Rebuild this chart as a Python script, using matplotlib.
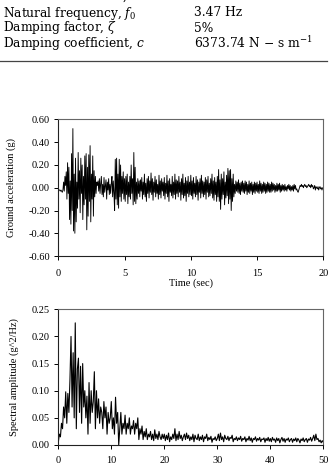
import numpy as np
import matplotlib.pyplot as plt

plt.rcParams['font.family'] = ['Liberation Serif', 'DejaVu Serif']
plt.rcParams['mathtext.fontset'] = 'stix'

# tabla de parametros
nombres = ['Structural stiffness, $k$', 'Natural frequency, $f_0$',
           'Damping factor, $\\zeta$', 'Damping coefficient, $c$']
valores = ['3027.66 kN m$^{-1}$', '3.47 Hz', '5%',
           '6373.74 N $-$ s m$^{-1}$']

# acelerograma, dt = 0.05 s
dt_acc = 0.05
acc = [
    -0.01,-0.02,-0.02,-0.03,-0.02,-0.03,-0.04,-0.02, 0.05,-0.03, 0.10, 0.02, 0.14,-0.10, 0.22,-0.05, 0.18,-0.28, 0.06,-0.32,
     0.30,-0.20, 0.52,-0.38, 0.12,-0.40, 0.26,-0.30, 0.05,-0.18, 0.31,-0.10, 0.15,-0.22, 0.26,-0.05, 0.20,-0.28, 0.10,-0.15,
     0.28,-0.10, 0.30,-0.37, 0.18,-0.25, 0.29,-0.12, 0.37,-0.30, 0.12,-0.10, 0.28,-0.25, 0.15,-0.08, 0.10,-0.05, 0.05, 0.02,
     0.06,-0.03, 0.08,-0.05, 0.04, 0.10,-0.06, 0.03,-0.08, 0.09,-0.04, 0.02, 0.07,-0.10, 0.05,-0.02, 0.08,-0.06, 0.03,-0.05,
     0.04, 0.10,-0.08, 0.06,-0.05,-0.20, 0.25,-0.10, 0.26,-0.15, 0.12,-0.18, 0.25,-0.08, 0.20,-0.12, 0.10,-0.05, 0.14,-0.10,
     0.08,-0.12, 0.10,-0.06, 0.12,-0.14, 0.05,-0.08, 0.10,-0.10, 0.20,-0.05, 0.08,-0.15, 0.31,-0.12, 0.18,-0.14, 0.05,-0.10,
     0.08,-0.05, 0.06,-0.08, 0.07,-0.03, 0.09,-0.10, 0.05,-0.06, 0.12,-0.08, 0.04,-0.12, 0.08,-0.05, 0.10,-0.09, 0.06,-0.04,
     0.13,-0.06, 0.08,-0.11, 0.05,-0.04, 0.10,-0.08, 0.07,-0.05, 0.03,-0.10, 0.11,-0.06, 0.06,-0.09, 0.08,-0.03, 0.05,-0.07,
     0.09,-0.10, 0.04,-0.05, 0.11,-0.08, 0.06,-0.12, 0.08,-0.04, 0.03,-0.07, 0.10,-0.09, 0.05,-0.06, 0.12,-0.10, 0.07,-0.05,
     0.06,-0.08, 0.10,-0.04, 0.05,-0.11, 0.08,-0.06, 0.12,-0.09, 0.04,-0.07, 0.09,-0.12, 0.06,-0.05, 0.10,-0.08, 0.05,-0.06,
     0.11,-0.07, 0.06,-0.10, 0.09,-0.05, 0.04,-0.08, 0.10,-0.06, 0.07,-0.11, 0.05,-0.04, 0.08,-0.09, 0.11,-0.05, 0.06,-0.08,
     0.05,-0.06, 0.09,-0.10, 0.07,-0.04, 0.10,-0.08, 0.04,-0.07, 0.08,-0.05, 0.12,-0.09, 0.06,-0.11, 0.09,-0.06, 0.05,-0.12,
     0.10,-0.08, 0.16,-0.12, 0.07,-0.19, 0.12,-0.10, 0.08,-0.06, 0.14,-0.15, 0.05,-0.09, 0.11,-0.07, 0.17,-0.14, 0.15,-0.10,
     0.16,-0.20, 0.08,-0.12, 0.12,-0.08, 0.03,-0.05, 0.06,-0.03, 0.05,-0.04, 0.07,-0.05, 0.04,-0.06, 0.05,-0.03, 0.06,-0.04,
     0.04,-0.05, 0.06,-0.03, 0.05,-0.06, 0.03,-0.04, 0.06,-0.05, 0.04,-0.03, 0.05,-0.06, 0.03,-0.04, 0.05,-0.05, 0.04,-0.03,
     0.05,-0.04, 0.03,-0.05, 0.06,-0.03, 0.04,-0.05, 0.03,-0.04, 0.05,-0.03, 0.04,-0.05, 0.03,-0.04, 0.05,-0.03, 0.04,-0.04,
     0.03,-0.04, 0.05,-0.03, 0.04,-0.02, 0.03,-0.04, 0.02,-0.03, 0.04,-0.03, 0.03,-0.02, 0.04,-0.04, 0.02,-0.03, 0.03,-0.02,
     0.02,-0.03, 0.03,-0.02, 0.01,-0.03, 0.02,-0.01, 0.03,-0.02, 0.02,-0.03, 0.01,-0.02, 0.02,-0.03, 0.03,-0.01, 0.02,-0.02,
    -0.01,-0.03,-0.04,-0.02, 0.00, 0.02, 0.01, 0.03, 0.01, 0.02, 0.00, 0.02, 0.03, 0.01, 0.02, 0.00, 0.01, 0.02, 0.03, 0.01,
     0.02, 0.00, 0.03, 0.01, 0.02,-0.01, 0.00, 0.02,-0.02, 0.01, 0.00,-0.01, 0.01,-0.02, 0.00, 0.01,-0.01, 0.00,-0.02, 0.00,
     0.00,
]

# espectro de potencia, df = 0.2 Hz
df_esp = 0.2
esp = [
    0.005, 0.02, 0.015, 0.04, 0.03, 0.07, 0.05, 0.098, 0.04, 0.095, 0.06, 0.12, 0.20, 0.07, 0.17, 0.05, 0.225, 0.03, 0.14, 0.16, 0.06, 0.145, 0.04, 0.15, 0.07,
    0.10, 0.05, 0.09, 0.02, 0.115, 0.04, 0.10, 0.06, 0.08, 0.135, 0.03, 0.10, 0.05, 0.085, 0.04, 0.07, 0.06, 0.03, 0.08, 0.05, 0.07, 0.02, 0.06, 0.04, 0.05,
    0.08, 0.03, 0.05, 0.02, 0.088, 0.04, 0.06, 0.00, 0.03, 0.06, 0.02, 0.04, 0.03, 0.055, 0.02, 0.04, 0.03, 0.05, 0.02, 0.035, 0.03, 0.045, 0.02, 0.04, 0.03,
    0.05, 0.01, 0.03, 0.02, 0.035, 0.01, 0.025, 0.015, 0.03, 0.01, 0.02, 0.015, 0.025, 0.01, 0.02, 0.008, 0.028, 0.012, 0.02, 0.01, 0.025, 0.015, 0.01, 0.02, 0.012,
    0.02, 0.008, 0.018, 0.01, 0.022, 0.006, 0.015, 0.01, 0.02, 0.012, 0.03, 0.008, 0.02, 0.01, 0.025, 0.012, 0.018, 0.008, 0.015, 0.02, 0.01, 0.022, 0.012, 0.018, 0.008,
    0.015, 0.01, 0.02, 0.006, 0.018, 0.012, 0.01, 0.02, 0.008, 0.015, 0.01, 0.018, 0.006, 0.015, 0.012, 0.02, 0.008, 0.014, 0.01, 0.016, 0.005, 0.012, 0.01, 0.015, 0.008,
    0.012, 0.02, 0.008, 0.022, 0.01, 0.015, 0.006, 0.018, 0.012, 0.01, 0.016, 0.008, 0.014, 0.012, 0.018, 0.006, 0.012, 0.01, 0.015, 0.008, 0.013, 0.01, 0.016, 0.007, 0.012,
    0.01, 0.015, 0.006, 0.012, 0.009, 0.016, 0.008, 0.013, 0.005, 0.012, 0.01, 0.015, 0.007, 0.012, 0.009, 0.014, 0.006, 0.011, 0.01, 0.013, 0.005, 0.012, 0.008, 0.014, 0.007,
    0.012, 0.006, 0.014, 0.009, 0.011, 0.005, 0.013, 0.008, 0.012, 0.004, 0.01, 0.014, 0.007, 0.012, 0.005, 0.011, 0.009, 0.013, 0.006, 0.01, 0.012, 0.005, 0.011, 0.008, 0.013,
    0.006, 0.012, 0.009, 0.004, 0.011, 0.008, 0.013, 0.006, 0.01, 0.012, 0.005, 0.011, 0.009, 0.014, 0.007, 0.012, 0.018, 0.008, 0.02, 0.01, 0.012, 0.006, 0.009, 0.004, 0.008,
    0.005,
]

t = np.arange(len(acc)) * dt_acc
f_hz = np.arange(len(esp)) * df_esp

fig = plt.figure(figsize=(3.31, 4.67), dpi=100)

# tabla arriba (letra ancha como en el original; la primera fila queda cortada)
y_filas = [467 + 4, 467 - 13, 467 - 28, 467 - 43]
for nom, val, yp in zip(nombres, valores, y_filas):
    fig.text(3 / 331, yp / 467, nom, fontsize=8.8, va='center', ha='left',
             family='DejaVu Serif', math_fontfamily='dejavuserif')
    fig.text(194 / 331, yp / 467, val, fontsize=8.8, va='center', ha='left',
             family='DejaVu Serif', math_fontfamily='dejavuserif')
fig.add_artist(plt.Line2D([0, 327 / 331], [1 - 60.5 / 467] * 2, color='#444444', lw=0.9))

def estilo(ax):
    for s in ['top', 'right']:
        ax.spines[s].set_color('#666666')
    for s in ['left', 'bottom']:
        ax.spines[s].set_color('#222222')
    for s in ax.spines.values():
        s.set_linewidth(0.8)
    ax.tick_params(direction='out', length=3, width=0.7, labelsize=7.5, pad=3)

# acelerograma
ax1 = fig.add_axes([58.3 / 331, 1 - 256 / 467, 265 / 331, 136.5 / 467])
ax1.plot(t, acc, color='black', lw=0.65)
ax1.set_xlim(0, 20)
ax1.set_ylim(-0.6, 0.6)
ax1.set_xticks([0, 5, 10, 15, 20])
ax1.set_yticks(np.arange(-0.6, 0.61, 0.2))
ax1.set_yticklabels(['%.2f' % v for v in np.arange(-0.6, 0.61, 0.2)])
ax1.set_xlabel('Time (sec)', fontsize=7.5, labelpad=1)
ax1.set_ylabel('Ground acceleration (g)', fontsize=7.5, labelpad=9)
estilo(ax1)
ax1.tick_params(axis='x', pad=6)

# espectro
ax2 = fig.add_axes([58.3 / 331, 1 - 445 / 467, 265 / 331, 135.7 / 467])
ax2.plot(f_hz, esp, color='black', lw=0.8)
ax2.set_xlim(0, 50)
ax2.set_ylim(0, 0.25)
ax2.set_xticks([0, 10, 20, 30, 40, 50])
ax2.set_yticks(np.arange(0, 0.251, 0.05))
ax2.set_yticklabels(['%.2f' % v for v in np.arange(0, 0.251, 0.05)])
ax2.set_ylabel('Spectral amplitude (g^2/Hz)', fontsize=7.5, labelpad=9)
estilo(ax2)
ax2.tick_params(axis='x', pad=5)

fig.savefig('out.png', dpi=100)
